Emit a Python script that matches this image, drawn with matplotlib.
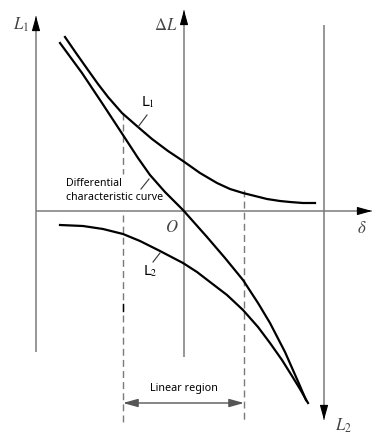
import numpy as np
import matplotlib.pyplot as plt

# curve points (pixel coords, y down)
l1_x = [65, 76, 88, 98, 108, 122, 138, 152, 168, 183, 200, 217, 230, 243, 255, 267, 280, 290, 303, 315]
l1_y = [37, 53, 70, 84, 97, 113, 127, 139, 151, 161, 173, 183, 189, 193, 196, 199, 201, 202, 203, 203]

diff_x = [60, 82, 102, 123, 138, 150, 165, 183, 207, 225, 243, 258, 270, 285, 300, 306]
diff_y = [43, 73, 103, 135, 158, 175, 192, 210, 237, 258, 280, 303, 323, 352, 386, 400]

l2_x = [60, 83, 103, 123, 140, 160, 183, 197, 210, 227, 243, 258, 270, 282, 292, 300, 308]
l2_y = [225, 226, 229, 234, 241, 251, 263, 272, 282, 295, 310, 327, 343, 360, 376, 389, 403]

# layout
W, H = 382, 441
x_left, x_mid, x_right = 36, 184, 324
y_axis = 211
x_lin0, x_lin1 = 123, 244

AX_C = '#7a7a7a'
plt.rcParams['mathtext.fontset'] = 'stix'

fig = plt.figure(figsize=(W / 100, H / 100), dpi=100)
ax = fig.add_axes([0, 0, 1, 1])
ax.set_xlim(0, W)
ax.set_ylim(H, 0)
ax.axis('off')


def arrow(x0, y0, x1, y1):
    # gray shaft, black head
    ax.plot([x0, x1], [y0, y1], color=AX_C, lw=1.1, solid_capstyle='butt')
    dx, dy = x1 - x0, y1 - y0
    n = np.hypot(dx, dy)
    ax.annotate('', xy=(x1, y1), xytext=(x1 - dx / n * 12, y1 - dy / n * 12),
                arrowprops=dict(arrowstyle='-|>,head_length=0.9,head_width=0.25',
                                color='black', lw=0.8, shrinkA=0, shrinkB=0))


arrow(x_left, 352, x_left, 16)
arrow(x_mid, 357, x_mid, 10)
arrow(x_right, 25, x_right, 420)
arrow(x_left, y_axis, 372, y_axis)

# dashed guides of the linear region (left one broken by the text)
ax.plot([x_lin0, x_lin0], [113, 174], color=AX_C, lw=1.0, ls=(0, (5, 3)))
ax.plot([x_lin0, x_lin0], [215, 422], color=AX_C, lw=1.0, ls=(0, (5, 3)))
ax.plot([x_lin1, x_lin1], [190, 422], color=AX_C, lw=1.0, ls=(0, (5, 3)))
ax.plot([x_lin0, x_lin0], [304, 311], color='black', lw=1.0)

# linear region double arrow
ax.annotate('', xy=(x_lin0, 403), xytext=(x_lin1, 403),
            arrowprops=dict(arrowstyle='<|-|>,head_length=0.9,head_width=0.25',
                            color='#555555', lw=1.0, shrinkA=0, shrinkB=0))
ax.text((x_lin0 + x_lin1) / 2, 388, 'Linear region', fontsize=7.8,
        family='Noto Sans', ha='center', va='center')

# curves
for xs, ys in [(l1_x, l1_y), (diff_x, diff_y), (l2_x, l2_y)]:
    ax.plot(xs, ys, color='black', lw=1.6, solid_joinstyle='round')

# leaders and labels
ax.plot([147, 138], [115, 127], color='#333333', lw=0.8)
ax.text(148, 102, 'L$_1$', fontsize=10, family='DejaVu Sans', ha='center', va='center')
ax.plot([149, 141], [179, 189], color='#333333', lw=0.8)
ax.text(66, 184, 'Differential', fontsize=7.6, family='Noto Sans', ha='left', va='center')
ax.text(66, 197, 'characteristic curve', fontsize=7.6, family='Noto Sans', ha='left', va='center')
ax.plot([160, 153], [253, 262], color='#333333', lw=0.8)
ax.text(150, 271, 'L$_2$', fontsize=10, family='DejaVu Sans', ha='center', va='center')

# axis names
ax.text(21, 25, r'$L_1$', fontsize=12, color='#444444', ha='center', va='center')
ax.text(166, 25, r'$\Delta L$', fontsize=12, color='#444444', ha='center', va='center')
ax.text(343, 426, r'$L_2$', fontsize=12, color='#444444', ha='center', va='center')
ax.text(362, 228, r'$\delta$', fontsize=12, color='#444444', ha='center', va='center')
ax.text(172, 227, r'$O$', fontsize=12, color='#444444', ha='center', va='center')

fig.savefig('out.png', dpi=100)
